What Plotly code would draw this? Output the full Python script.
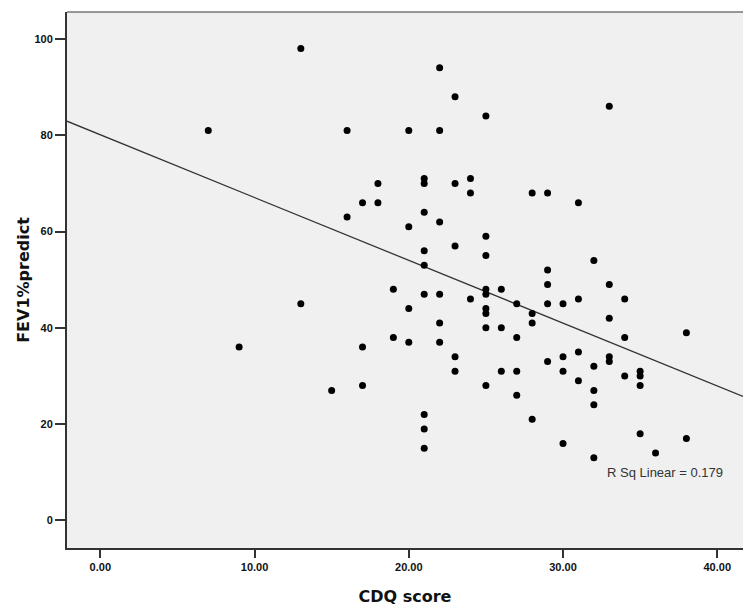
import numpy as np
import plotly.graph_objects as go

cdq_score = [7, 9, 13, 13, 15, 16, 16, 17, 17, 17, 18, 18, 19, 19, 20, 20, 20, 20,
             21, 21, 21, 21, 21, 21, 21, 21, 21, 22, 22, 22, 22, 22, 22, 23, 23, 23,
             23, 23, 24, 24, 24, 25, 25, 25, 25, 25, 25, 25, 25, 25, 26, 26, 26, 27,
             27, 27, 27, 28, 28, 28, 28, 29, 29, 29, 29, 29, 30, 30, 30, 30, 31, 31,
             31, 31, 32, 32, 32, 32, 32, 33, 33, 33, 33, 33, 34, 34, 34, 35, 35, 35,
             35, 36, 38, 38]
fev1_predict = [81, 36, 98, 45, 27, 81, 63, 66, 36, 28, 70, 66, 48, 38, 81, 61, 44, 37,
                71, 70, 64, 56, 53, 47, 22, 19, 15, 94, 81, 62, 47, 41, 37, 88, 70, 57,
                34, 31, 71, 68, 46, 84, 59, 55, 48, 47, 44, 43, 40, 28, 48, 40, 31, 45,
                38, 31, 26, 68, 43, 41, 21, 68, 52, 49, 45, 33, 45, 34, 31, 16, 66, 46,
                35, 29, 54, 32, 27, 24, 13, 86, 49, 42, 34, 33, 46, 38, 30, 31, 30, 28,
                18, 14, 39, 17]

# fitted line (intercept, slope)
fit_intercept = 80.1
fit_slope = -1.304

x_ticks = [0, 10, 20, 30, 40]
x_tick_labels = ["0.00", "10.00", "20.00", "30.00", "40.00"]
y_ticks = [0, 20, 40, 60, 80, 100]
r_sq_label = "R Sq Linear = 0.179"

x_range = [-2.16, 41.67]
y_range = [-5.73, 105.6]

line_x = np.array(x_range)
line_y = fit_intercept + fit_slope * line_x

fig = go.Figure()
fig.add_trace(go.Scatter(
    x=line_x, y=line_y, mode="lines",
    line=dict(color="#333333", width=1.3),
    hoverinfo="skip", showlegend=False,
))
fig.add_trace(go.Scatter(
    x=cdq_score, y=fev1_predict, mode="markers",
    marker=dict(color="black", size=7, line=dict(width=0)),
    showlegend=False,
))

fig.add_annotation(
    x=32.73, y=9.97, xref="x", yref="y", text=r_sq_label, showarrow=False,
    xanchor="left", yanchor="middle",
    font=dict(family="Liberation Sans, Arial", size=13, color="#333333"),
)

fig.add_shape(type="line", xref="paper", yref="paper", x0=0, x1=1, y0=1, y1=1,
              line=dict(color="#777777", width=1.5))

tick_font = dict(family="Liberation Sans, Arial", size=11, color="#111111", weight="bold")
title_font = dict(family="DejaVu Sans", size=16, color="#111111", weight="bold")

fig.update_layout(
    width=743, height=606,
    margin=dict(l=67, r=0, t=12, b=58, autoexpand=False),
    paper_bgcolor="white",
    plot_bgcolor="#f0f0f0",
    xaxis=dict(
        range=x_range, tickmode="array", tickvals=x_ticks, ticktext=x_tick_labels,
        showgrid=False, zeroline=False, showline=True, linecolor="#333333", linewidth=2,
        ticks="outside", ticklen=8, tickwidth=1.5, tickcolor="#333333",
        tickfont=tick_font,
        title=dict(text="CDQ score", font=title_font, standoff=19),
    ),
    yaxis=dict(
        range=y_range, tickmode="array", tickvals=y_ticks,
        showgrid=False, zeroline=False, showline=True, linecolor="#333333", linewidth=2,
        ticks="outside", ticklen=10, tickwidth=1.5, tickcolor="#333333",
        tickfont=tick_font,
        title=dict(text="FEV1%predict", font=title_font, standoff=1),
    ),
)

fig.write_html("out.html", config={"displayModeBar": False},
               post_script="document.body.style.margin='0';document.body.style.overflow='hidden';")
